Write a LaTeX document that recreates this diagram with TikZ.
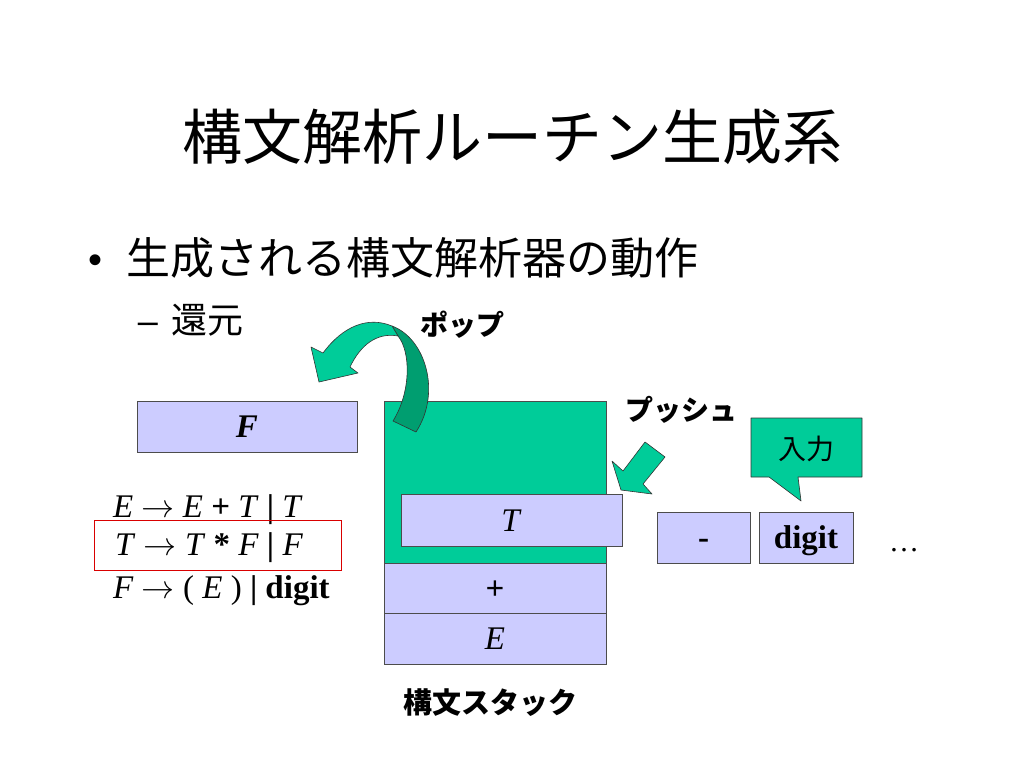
\documentclass[tikz,border=0pt]{standalone}
\usepackage{fontspec}
\usepackage{unicode-math}
\setmainfont{Liberation Serif}
\setmathfont{Latin Modern Math}
\newfontfamily\jp{Noto Sans CJK JP}
\newfontfamily\sansf{Liberation Sans}
\definecolor{lav}{RGB}{204,204,255}
\definecolor{grn}{RGB}{0,204,153}
\definecolor{dgrn}{RGB}{0,158,112}
\tikzset{
  cell/.style={draw=black!70, fill=lav, line width=0.9pt, inner sep=0pt, minimum height=51pt, text height=22pt, text depth=0pt, font=\fontsize{33}{40}\selectfont},
  jplabel/.style={inner sep=0pt, font=\jp\bfseries\fontsize{28}{34}\selectfont},
  rule/.style={anchor=base west, inner sep=0pt, font=\fontsize{33}{40}\selectfont},
  blockarrow/.style={draw=black!80, line width=0.6pt, line join=round},
}
\begin{document}
\begin{tikzpicture}[x=1pt,y=-1pt]
\useasboundingbox (0,0) rectangle (1024,768);
\node[inner sep=0pt, font=\jp\fontsize{60}{72}\selectfont] (title) at (512,137) {構文解析ルーチン生成系};
\node[inner sep=0pt, font=\sansf\fontsize{40}{48}\selectfont] (bullet) at (96,264) {•};
\node[anchor=west, inner sep=0pt, font=\jp\fontsize{44}{52}\selectfont] (item) at (126,258) {生成される構文解析器の動作};
\node[inner sep=0pt, font=\sansf\fontsize{36}{44}\selectfont] (dash) at (148,328) {–};
\node[anchor=west, inner sep=0pt, font=\jp\fontsize{36}{44}\selectfont] (sub) at (171,320) {還元};
% grammar
\node[rule] (r1) at (113,517) {\textit{E} $\rightarrow$ \textit{E} \textbf{+} \textit{T} \textbf{|} \textit{T}};
\node[rule] (r2) at (115,555) {\textit{T} $\rightarrow$ \textit{T} \textbf{*} \textit{F} \textbf{|} \textit{F}};
\node[rule] (r3) at (113,598) {\textit{F} $\rightarrow$ ( \textit{E} ) \textbf{|} \textbf{digit}};
\node[draw=red!85!black, line width=0.8pt, minimum width=247pt, minimum height=50pt, inner sep=0pt] (hl) at (217.5,545) {};
% stack
\node[cell, minimum width=220pt] (popped) at (247,426.5) {\textbf{\textit{F}}};
\node[cell, fill=grn, minimum width=222pt, minimum height=162pt] (top) at (495,482) {};
\filldraw[blockarrow, fill=dgrn] (392,326) .. controls (425,338) and (442,392) .. (416,432) -- (393,421) .. controls (411,392) and (411,352) .. (398,336) -- cycle;
\filldraw[blockarrow, fill=grn] (323,353) .. controls (343,326) and (368,316) .. (392,326) -- (398,336) .. controls (376,332) and (360,346) .. (350,367) -- (358,373) -- (319,382) -- (311,347) -- cycle;
\node[cell, minimum width=221pt, minimum height=52pt] (sT) at (511.5,520) {\textit{T}};
\node[cell, minimum width=222pt, minimum height=50pt] (sPlus) at (495,588) {\textbf{+}};
\node[cell, minimum width=222pt, minimum height=51pt] (sE) at (495,638.5) {\textit{E}};
\filldraw[blockarrow, fill=grn] (645,442) -- (665,457) -- (643,484) -- (652,494) -- (621,490) -- (612,461) -- (623,471) -- cycle;
% input
\node[cell, minimum width=93pt] (inMinus) at (703.5,537.5) {\textbf{-}};
\node[cell, minimum width=94pt] (inDigit) at (806,537.5) {\textbf{digit}};
\node[anchor=base, inner sep=0pt, font=\fontsize{30}{36}\selectfont] (dots) at (904,551) {\dots};
\filldraw[blockarrow, fill=grn] (751,418) -- (862,418) -- (862,477) -- (798,477) -- (801,501) -- (769,477) -- (751,477) -- cycle;
\node[inner sep=0pt, font=\jp\fontsize{28}{34}\selectfont] (input) at (806,449) {入力};
% labels
\node[jplabel] (pop) at (462,325) {ポップ};
\node[jplabel] (push) at (681,410) {プッシュ};
\node[jplabel, font=\jp\bfseries\fontsize{29}{34}\selectfont] (stack) at (490,703) {構文スタック};
\end{tikzpicture}
\end{document}
